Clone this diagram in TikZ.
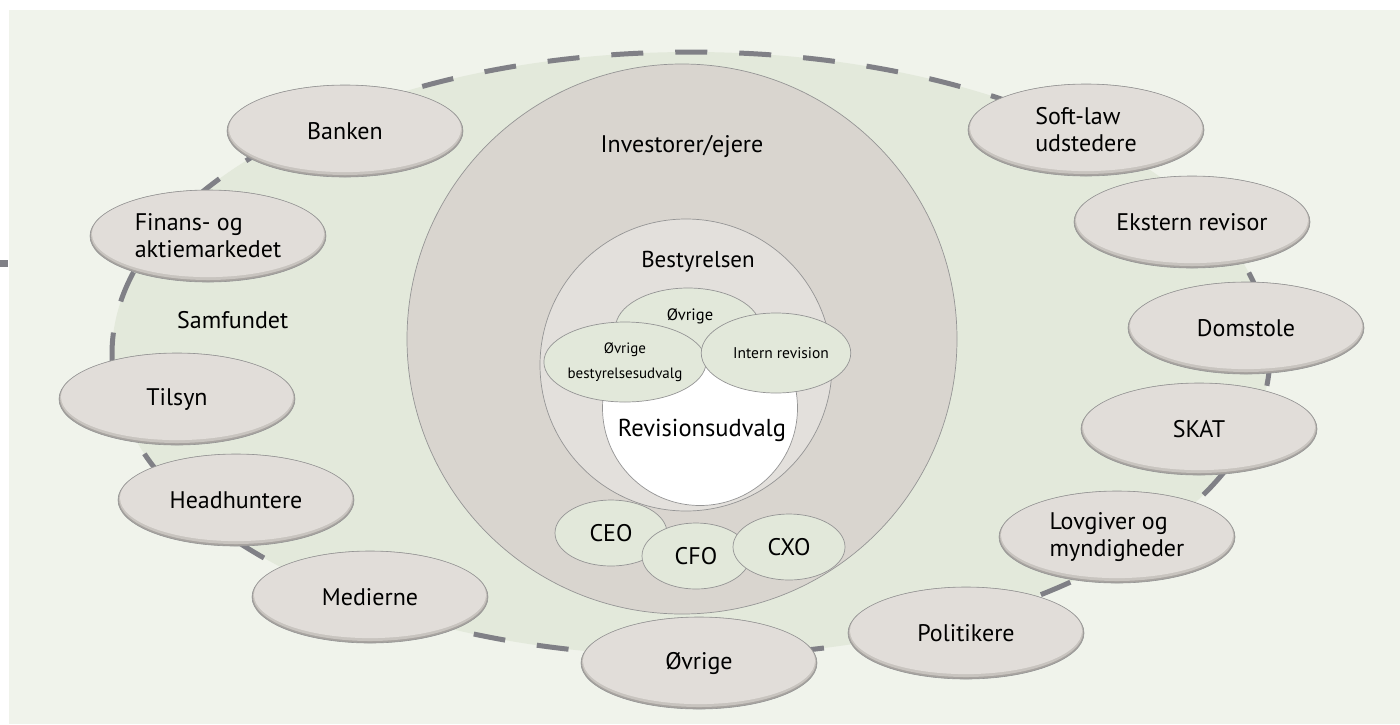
\documentclass[tikz,border=0pt]{standalone}
\usepackage{fontspec}
\setmainfont{PT Sans}
\usetikzlibrary{shapes.geometric}
\definecolor{panelc}{HTML}{F0F3EB}
\definecolor{socc}{HTML}{E3E9DB}
\definecolor{dashc}{HTML}{808086}
\definecolor{invc}{HTML}{D9D5CF}
\definecolor{bestc}{HTML}{E3E0DC}
\definecolor{greenc}{HTML}{E2E8DA}
\definecolor{edgec}{HTML}{959595}
\definecolor{facec}{HTML}{E1DDD9}
\definecolor{rimc}{HTML}{A8A4A0}
\definecolor{rimlc}{HTML}{C8C4BF}
\tikzset{
  outernode/.style={ellipse, minimum width=236pt, minimum height=92pt, inner sep=0pt,
    fill=rimc, draw=edgec, line width=0.6pt, align=left,
    font=\fontsize{24}{27}\selectfont,
    path picture={
      \fill[rimlc] ([yshift=1pt]path picture bounding box.center) ellipse [x radius=117pt, y radius=45pt];
      \fill[facec] ([yshift=2.2pt]path picture bounding box.center) ellipse [x radius=116pt, y radius=43.3pt];
    }},
  smallell/.style={ellipse, minimum width=145pt, minimum height=80pt, inner sep=0pt,
    fill=greenc, draw=edgec, line width=0.7pt, align=center,
    font=\fontsize{15}{25}\selectfont},
  execell/.style={ellipse, minimum width=112pt, minimum height=66pt, inner sep=0pt,
    fill=greenc, draw=edgec, line width=0.7pt, font=\fontsize{24}{26}\selectfont},
  bigcirc/.style={circle, inner sep=0pt, draw=edgec, line width=0.7pt},
  lab/.style={inner sep=0pt, font=\fontsize{24}{27}\selectfont}
}
\begin{document}
\begin{tikzpicture}[x=1pt,y=-1pt]
\useasboundingbox (0,0) rectangle (1400,724);
\fill[panelc] (9,10) rectangle (1400,724);
\fill[dashc] (0,260) rectangle (8,267);
% society ellipse
\coordinate (socc) at (691,354);
\draw[fill=socc, draw=dashc, line width=5pt, dash pattern=on 32pt off 32pt, dash phase=11pt]
  (socc) ellipse [x radius=579pt, y radius=302pt];
% investors
\node[bigcirc, fill=invc, minimum size=550pt] (inv) at (682,339) {};
\node[lab] (invlab) at (682,146) {Investorer/ejere};
\node[bigcirc, fill=bestc, minimum size=292pt] (best) at (686,365) {};
\node[lab, font=\fontsize{23}{25}\selectfont] (bestlab) at (698,262) {Bestyrelsen};
\node[bigcirc, fill=white, minimum size=195pt] (rev) at (700,408) {};
\node[lab, font=\fontsize{24.5}{26}\selectfont] (revlab) at (702,430) {Revisionsudvalg};
\node[smallell] (ovr) at (688,328) {};
\node[lab, font=\fontsize{16.5}{18}\selectfont] (ovrlab) at (690,316) {Øvrige};
\node[smallell] (obu) at (625,362) {Øvrige\\bestyrelsesudvalg};
\node[smallell, font=\fontsize{15.5}{18}\selectfont] (intrev) at (776,353) {\hspace*{10pt}Intern revision};
% executives
\node[execell] (ceo) at (611,533) {CEO};
\node[execell, minimum width=108pt] (cfo) at (696,556) {CFO};
\node[execell] (cxo) at (789,547) {CXO};
% society label
\node[lab, anchor=west] (samf) at (177,320) {Samfundet};
% outer stakeholders
\node[outernode] (banken) at (345,131) {Banken};
\node[outernode] (finans) at (208,236) {Finans- og\\aktiemarkedet};
\node[outernode] (tilsyn) at (177,399) {Tilsyn};
\node[outernode] (head) at (236,500) {Headhuntere};
\node[outernode] (medier) at (370,597) {Medierne};
\node[outernode] (ovrige) at (699,663) {Øvrige};
\node[outernode] (polit) at (966,633) {Politikere};
\node[outernode] (lovg) at (1117,537) {Lovgiver og\\myndigheder};
\node[outernode] (skat) at (1199,429) {SKAT};
\node[outernode] (domst) at (1246,328) {Domstole};
\node[outernode] (ekst) at (1192,222) {Ekstern revisor};
\node[outernode] (soft) at (1086,130) {Soft-law\\udstedere};
\end{tikzpicture}
\end{document}
